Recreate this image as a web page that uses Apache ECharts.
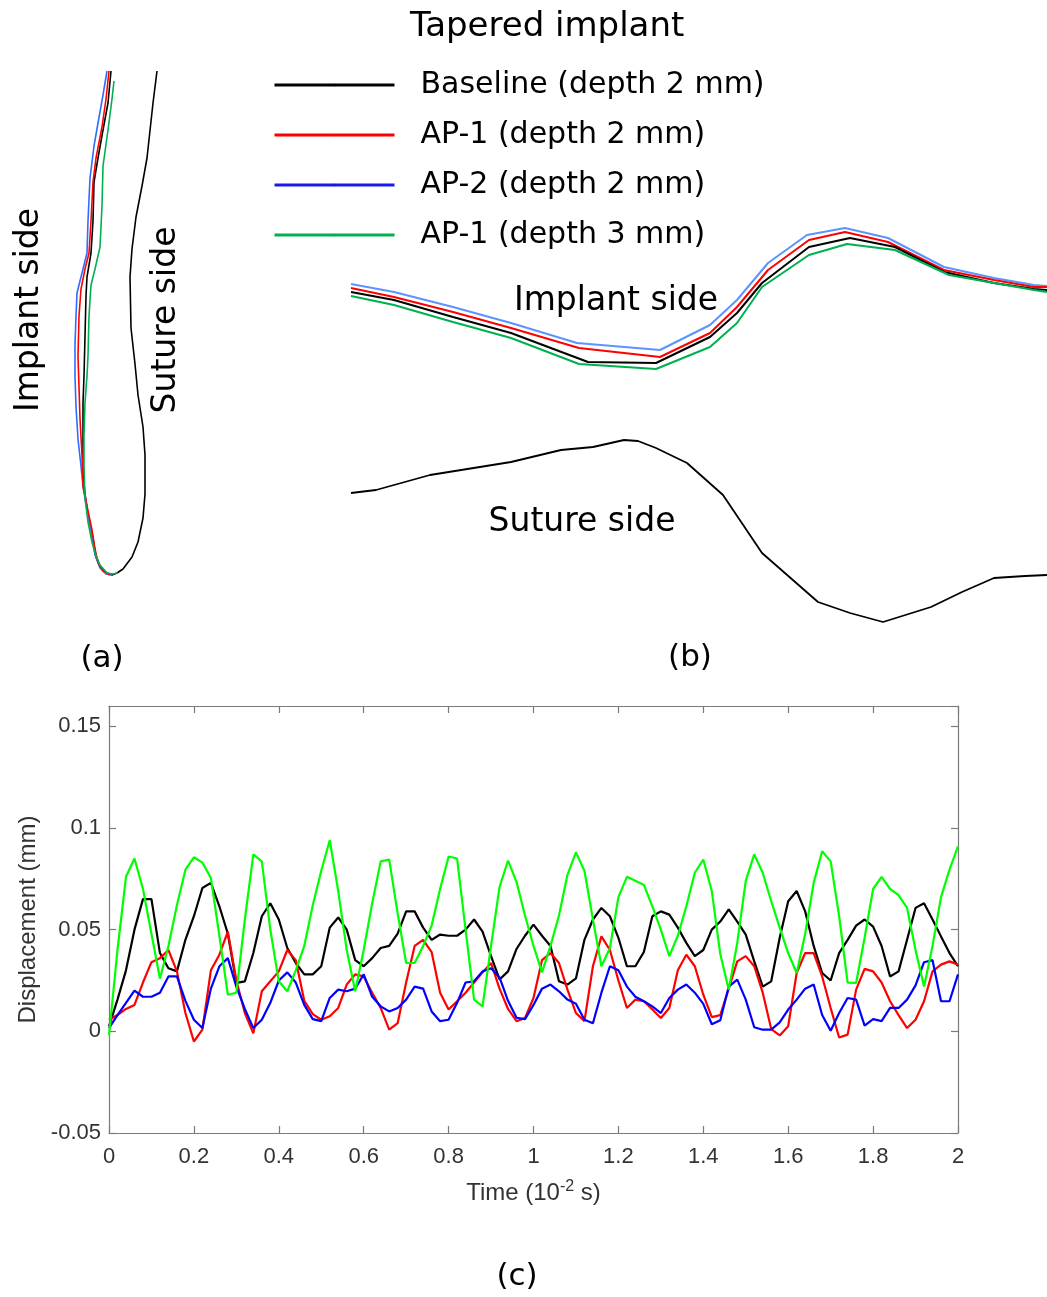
<!DOCTYPE html>
<html>
<head>
<meta charset="utf-8">
<script src="https://cdn.jsdelivr.net/npm/echarts@6/dist/echarts.min.js"></script>
<style>
  html, body { margin: 0; padding: 0; background: #ffffff; }
  #chart { width: 1047px; height: 1297px; }
</style>
</head>
<body>
<div id="chart"></div>
<script>
// ---- Series names (shared by all three panels) ----
const seriesNames = ['Baseline (depth 2 mm)', 'AP-1 (depth 2 mm)', 'AP-2 (depth 2 mm)', 'AP-1 (depth 3 mm)'];

// ---- Panel (a): sagittal contour of the cleft (x, depth), arbitrary units ----
const contourA_baseline = [[111,71],[108,103],[103,130],[98,158],[94,182],[93,221],[91,253],[87,277],[86,296],[85,336],[84,376],[83,403],[83,435],[83,474],[85,494],[88,514],[93,538],[96,557],[100,567],[107,573],[112,575],[117,573],[123,569],[132,557],[138,542],[143,518],[145,494],[145,455],[143,427],[138,395],[135,364],[131,328],[130,277],[132,249],[136,217],[142,186],[147,158],[153,103],[157,71]];
const contourA_ap1d2 = [[109,71],[106,99],[102,127],[96,158],[93,182],[91,221],[89,253],[85,269],[81,289],[79,316],[78,356],[79,387],[80,419],[82,455],[83,486],[87,506],[92,530],[95,549],[98,562],[103,571],[110,575]];
const contourA_ap2d2 = [[107,71],[103,95],[98,123],[94,146],[90,178],[88,221],[87,253],[83,269],[77,293],[76,316],[75,344],[75,376],[76,407],[78,439],[81,466],[83,486],[86,505],[91,530],[95,555],[100,568],[106,574],[112,575]];
const contourA_ap1d3 = [[114,81],[112,99],[108,130],[103,166],[102,206],[100,247],[95,269],[91,285],[89,316],[88,356],[87,376],[85,403],[84,435],[84,466],[85,498],[88,522],[92,542],[95,553],[100,565],[107,573],[113,574],[118,573]];

// ---- Panel (b): transverse contour, implant side and suture side ----
const contourB_baseline = [[11,92],[54,100],[113,117],[171,133],[248,162],[316,163],[370,137],[397,113],[422,83],[469,47],[510,38],[555,47],[604,72],[654,83],[694,89],[707,90]];
const contourB_ap1d2 = [[11,88],[54,97],[113,112],[171,128],[239,148],[320,157],[370,133],[397,107],[428,70],[469,40],[505,32],[548,42],[604,70],[654,80],[694,87],[707,87]];
const contourB_ap2d2 = [[11,84],[54,92],[113,107],[171,123],[237,143],[320,150],[370,125],[397,100],[428,63],[467,35],[505,28],[548,38],[604,67],[654,78],[694,85],[707,86]];
const contourB_ap1d3 = [[11,96],[54,105],[113,122],[171,138],[239,164],[316,169],[370,147],[397,123],[422,87],[469,55],[507,44],[555,50],[609,75],[654,83],[694,90],[707,92]];
const contourB_suture = [[11,293],[36,290],[90,275],[171,262],[221,250],[253,247],[284,240],[298,241],[316,248],[347,263],[383,295],[422,353],[478,402],[510,413],[543,422],[591,407],[622,392],[654,378],[685,376],[707,375]];

// ---- Panel (c): displacement (mm) sampled every 0.02 x 10^-2 s from 0 to 2 ----
const timeStep = 0.02;
const dispBaseline = [0.0025,0.0156,0.030,0.050,0.065,0.065,0.0385,0.031,0.0295,0.045,
  0.0566,0.0705,0.073,0.0615,0.048,0.0238,0.0246,0.0385,0.0566,0.063,
  0.055,0.041,0.0336,0.028,0.028,0.032,0.051,0.056,0.050,0.035,
  0.032,0.036,0.041,0.042,0.048,0.059,0.059,0.051,0.045,0.0476,
  0.047,0.047,0.050,0.055,0.049,0.037,0.0255,0.0295,0.0405,0.047,
  0.0525,0.047,0.042,0.0246,0.023,0.026,0.045,0.055,0.0607,0.0566,
  0.046,0.032,0.032,0.039,0.0566,0.059,0.0574,0.051,0.0435,0.037,
  0.040,0.050,0.054,0.060,0.054,0.0476,0.0344,0.022,0.0246,0.046,
  0.064,0.069,0.059,0.042,0.0287,0.025,0.0385,0.045,0.052,0.055,
  0.0515,0.042,0.027,0.0295,0.045,0.0607,0.063,0.055,0.0467,0.0385,
  0.032];
const dispAp1D2 = [0.0057,0.008,0.011,0.013,0.024,0.034,0.036,0.040,0.0295,0.009,
  -0.005,0.0008,0.030,0.0377,0.049,0.025,0.009,-0.001,0.0197,0.0246,
  0.0295,0.040,0.035,0.015,0.0085,0.0057,0.0074,0.0115,0.023,0.028,
  0.027,0.019,0.0115,0.0008,0.004,0.024,0.042,0.045,0.039,0.019,
  0.0107,0.0148,0.019,0.024,0.029,0.0336,0.021,0.011,0.005,0.0066,
  0.0164,0.035,0.0385,0.0336,0.0205,0.009,0.005,0.032,0.0467,0.040,
  0.025,0.0115,0.0156,0.0148,0.0107,0.0066,0.0115,0.030,0.0377,0.032,
  0.018,0.007,0.008,0.021,0.0344,0.037,0.032,0.019,0.0011,-0.002,
  0.0025,0.0287,0.0385,0.0385,0.027,0.0115,-0.003,-0.0016,0.0205,0.0307,
  0.0295,0.024,0.0148,0.008,0.0016,0.0057,0.0148,0.0295,0.0328,0.0344,
  0.0328];
const dispAp2D2 = [0.0016,0.008,0.014,0.020,0.017,0.017,0.019,0.027,0.027,0.015,
  0.0057,0.0016,0.021,0.032,0.036,0.022,0.011,0.0016,0.0057,0.014,
  0.025,0.029,0.024,0.013,0.006,0.005,0.0164,0.0205,0.0197,0.021,
  0.028,0.017,0.0123,0.0098,0.0115,0.0156,0.022,0.021,0.0098,0.005,
  0.0057,0.014,0.024,0.0246,0.0295,0.031,0.0265,0.015,0.0067,0.006,
  0.013,0.021,0.023,0.0197,0.0156,0.0136,0.0057,0.004,0.019,0.032,
  0.030,0.022,0.017,0.0148,0.0123,0.009,0.0164,0.0205,0.023,0.019,
  0.0135,0.0035,0.0055,0.022,0.0254,0.0156,0.002,0.0008,0.0008,0.0044,
  0.0107,0.0156,0.021,0.023,0.008,0.0003,0.009,0.0164,0.0156,0.0028,
  0.006,0.005,0.0115,0.0115,0.0156,0.0226,0.034,0.035,0.0148,0.0148,
  0.028];
const dispAp1D3 = [-0.002,0.040,0.076,0.085,0.070,0.048,0.026,0.042,0.062,0.0795,
  0.0856,0.083,0.0754,0.047,0.018,0.019,0.055,0.087,0.0836,0.050,
  0.0246,0.0197,0.030,0.042,0.062,0.079,0.094,0.069,0.040,0.0197,
  0.040,0.063,0.0836,0.0845,0.058,0.0336,0.0336,0.042,0.052,0.070,
  0.086,0.085,0.050,0.0156,0.0123,0.042,0.071,0.084,0.0735,0.057,
  0.042,0.029,0.042,0.057,0.077,0.088,0.079,0.055,0.032,0.041,
  0.066,0.076,0.074,0.072,0.0615,0.050,0.037,0.047,0.0615,0.078,
  0.0845,0.069,0.038,0.0205,0.0435,0.074,0.087,0.078,0.064,0.051,
  0.0385,0.0287,0.048,0.073,0.0886,0.0836,0.0566,0.024,0.0238,0.046,
  0.070,0.076,0.070,0.067,0.0607,0.040,0.022,0.042,0.066,0.0795,
  0.091];

// ---- Styling ----
const legendColors = ['#000000', '#ff0000', '#1818e8', '#00b050'];
const contourColorsA = ['#000000', '#ff0000', '#2f6bff', '#00b050'];
const contourColorsB = ['#000000', '#ff0000', '#5b93ff', '#00b050'];
const traceColors = ['#000000', '#ff0000', '#0000ff', '#00ff00'];
const slideFont = '"DejaVu Sans", sans-serif';
const plotFont = '"Liberation Sans", Arial, sans-serif';
const axisGray = '#7a7a7a';
const labelGray = '#333333';

const toPairs = (vals) => vals.map((v, i) => [+(i * timeStep).toFixed(2), v]);

function contourSeries(name, data, color, grid, width, z) {
  return {
    name: name, type: 'line', xAxisIndex: grid, yAxisIndex: grid,
    data: data, symbol: 'none', smooth: false, clip: false, z: z,
    lineStyle: { color: color, width: width }, itemStyle: { color: color },
    emphasis: { disabled: true }
  };
}

function traceSeries(name, vals, color, z) {
  return {
    name: name, type: 'line', xAxisIndex: 2, yAxisIndex: 2,
    data: toPairs(vals), symbol: 'none', z: z,
    lineStyle: { color: color, width: 2.2 }, itemStyle: { color: color },
    emphasis: { disabled: true }
  };
}

const hiddenAxis = (max, inverse) => ({
  type: 'value', min: 0, max: max, inverse: !!inverse, show: false,
  splitLine: { show: false }
});

const frameLine = { show: true, onZero: false, lineStyle: { color: axisGray, width: 1.2 } };
const frameTick = { show: true, inside: true, length: 7, lineStyle: { color: axisGray, width: 1.2 } };

const chart = echarts.init(document.getElementById('chart'), null, { renderer: 'canvas' });

chart.setOption({
  backgroundColor: '#ffffff',
  animation: false,
  title: {
    text: 'Tapered implant', left: 410, top: 10, padding: 0,
    textStyle: { fontFamily: slideFont, fontSize: 34, fontWeight: 'normal', color: '#000000' }
  },
  legend: {
    orient: 'vertical', left: 273, top: 67, padding: 0,
    itemGap: 14, itemWidth: 120, itemHeight: 3, selectedMode: false,
    data: seriesNames.map((n, i) => ({
      name: n,
      itemStyle: { color: legendColors[i] },
      lineStyle: { color: legendColors[i], width: 3 }
    })),
    textStyle: { fontFamily: slideFont, fontSize: 30, color: '#000000', lineHeight: 36, padding: [0, 0, 0, 21] }
  },
  grid: [
    { left: 0, top: 0, width: 350, height: 620, outerBoundsMode: 'none' },
    { left: 340, top: 200, width: 707, height: 440, outerBoundsMode: 'none' },
    { left: 109, top: 706, width: 849, height: 427, outerBoundsMode: 'none' }
  ],
  xAxis: [
    Object.assign(hiddenAxis(350), { gridIndex: 0 }),
    Object.assign(hiddenAxis(707), { gridIndex: 1 }),
    {
      gridIndex: 2, type: 'value', position: 'bottom', min: 0, max: 2, interval: 0.2,
      axisLine: frameLine, axisTick: frameTick, splitLine: { show: false },
      axisLabel: { fontFamily: plotFont, fontSize: 22, color: labelGray, margin: 13 },
      name: 'Time (10{sup|-2} s)', nameLocation: 'middle', nameGap: 46,
      nameTextStyle: {
        fontFamily: plotFont, fontSize: 24, color: labelGray, lineHeight: 28, verticalAlign: 'top',
        rich: { sup: { fontFamily: plotFont, fontSize: 16, color: labelGray, verticalAlign: 'top', lineHeight: 16 } }
      }
    },
    {
      gridIndex: 2, type: 'value', position: 'top', min: 0, max: 2, interval: 0.2,
      axisLine: frameLine, axisTick: frameTick, splitLine: { show: false },
      axisLabel: { show: false }
    }
  ],
  yAxis: [
    Object.assign(hiddenAxis(620, true), { gridIndex: 0 }),
    Object.assign(hiddenAxis(440, true), { gridIndex: 1 }),
    {
      gridIndex: 2, type: 'value', position: 'left', min: -0.05, max: 0.16, interval: 0.05,
      axisLine: frameLine, axisTick: frameTick, splitLine: { show: false },
      axisLabel: { fontFamily: plotFont, fontSize: 22, color: labelGray, margin: 8, showMaxLabel: false },
      name: 'Displacement (mm)', nameLocation: 'middle', nameGap: 62,
      nameTextStyle: { fontFamily: plotFont, fontSize: 24, color: labelGray }
    },
    {
      gridIndex: 2, type: 'value', position: 'right', min: -0.05, max: 0.16, interval: 0.05,
      axisLine: frameLine, axisTick: frameTick, splitLine: { show: false },
      axisLabel: { show: false }
    }
  ],
  series: [
    // (a)
    contourSeries(seriesNames[0], contourA_baseline, contourColorsA[0], 0, 1.6, 2),
    contourSeries(seriesNames[2], contourA_ap2d2, contourColorsA[2], 0, 1.6, 3),
    contourSeries(seriesNames[1], contourA_ap1d2, contourColorsA[1], 0, 1.6, 4),
    contourSeries(seriesNames[3], contourA_ap1d3, contourColorsA[3], 0, 1.6, 5),
    // (b)
    contourSeries(seriesNames[2], contourB_ap2d2, contourColorsB[2], 1, 2, 2),
    contourSeries(seriesNames[1], contourB_ap1d2, contourColorsB[1], 1, 2, 3),
    contourSeries(seriesNames[0], contourB_baseline, contourColorsB[0], 1, 2, 4),
    contourSeries(seriesNames[3], contourB_ap1d3, contourColorsB[3], 1, 2, 5),
    contourSeries(seriesNames[0], contourB_suture, contourColorsB[0], 1, 1.8, 4),
    // (c)
    traceSeries(seriesNames[0], dispBaseline, traceColors[0], 2),
    traceSeries(seriesNames[1], dispAp1D2, traceColors[1], 3),
    traceSeries(seriesNames[2], dispAp2D2, traceColors[2], 4),
    traceSeries(seriesNames[3], dispAp1D3, traceColors[3], 5)
  ],
  graphic: [
    { type: 'text', x: 29, y: 310, rotation: Math.PI / 2, silent: true,
      style: { text: 'Implant side', font: '33px ' + slideFont, fill: '#000', textAlign: 'center', textVerticalAlign: 'middle' } },
    { type: 'text', x: 166, y: 320, rotation: Math.PI / 2, silent: true,
      style: { text: 'Suture side', font: '33px ' + slideFont, fill: '#000', textAlign: 'center', textVerticalAlign: 'middle' } },
    { type: 'text', x: 616, y: 301, silent: true,
      style: { text: 'Implant side', font: '33px ' + slideFont, fill: '#000', textAlign: 'center', textVerticalAlign: 'middle' } },
    { type: 'text', x: 582, y: 522, silent: true,
      style: { text: 'Suture side', font: '33px ' + slideFont, fill: '#000', textAlign: 'center', textVerticalAlign: 'middle' } },
    { type: 'text', x: 102, y: 659, silent: true,
      style: { text: '(a)', font: '31px ' + slideFont, fill: '#000', textAlign: 'center', textVerticalAlign: 'middle' } },
    { type: 'text', x: 690, y: 658, silent: true,
      style: { text: '(b)', font: '31px ' + slideFont, fill: '#000', textAlign: 'center', textVerticalAlign: 'middle' } },
    { type: 'text', x: 517, y: 1277, silent: true,
      style: { text: '(c)', font: '31px ' + slideFont, fill: '#000', textAlign: 'center', textVerticalAlign: 'middle' } }
  ]
});
</script>
</body>
</html>
